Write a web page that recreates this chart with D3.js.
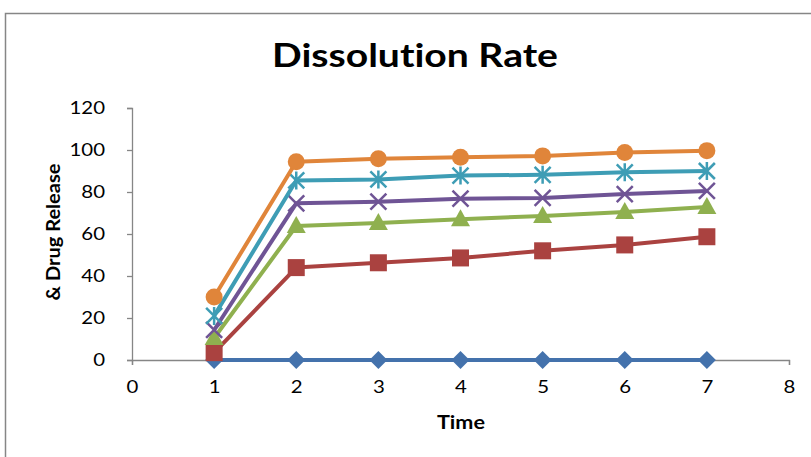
<!DOCTYPE html>
<html><head><meta charset="utf-8">
<script src="https://cdn.jsdelivr.net/npm/d3@7"></script>
<style>body{margin:0;background:#fff;}svg{display:block;font-family:Lato,"Open Sans",sans-serif;font-variant-ligatures:none;}</style>
</head><body>
<svg id="c" width="811" height="457"></svg>
<script>
const times = [1, 2, 3, 4, 5, 6, 7];
const xTicks = [0, 1, 2, 3, 4, 5, 6, 7, 8];
const yTicks = [0, 20, 40, 60, 80, 100, 120];
const seriesBlue   = [0, 0, 0, 0, 0, 0, 0];
const seriesRed    = [3.5, 44, 46.3, 48.6, 52, 54.8, 58.7];
const seriesGreen  = [10.5, 63.8, 65.2, 67, 68.6, 70.5, 72.8];
const seriesPurple = [14.3, 74.6, 75.4, 76.8, 77.2, 79, 80.5];
const seriesTeal   = [21, 85.5, 86, 87.8, 88.2, 89.4, 90];
const seriesOrange = [30, 94.4, 95.8, 96.6, 97.2, 98.8, 99.7];

const series = [
  {values: seriesBlue, color: "#4472AC", marker: "diamond"},
  {values: seriesRed, color: "#AA4240", marker: "square"},
  {values: seriesGreen, color: "#8FB04F", marker: "triangle"},
  {values: seriesPurple, color: "#6F5495", marker: "x"},
  {values: seriesTeal, color: "#3E9DB5", marker: "star"},
  {values: seriesOrange, color: "#E0853A", marker: "circle"}
];

const svg = d3.select("#c");
svg.append("rect").attr("x", 5.5).attr("y", 13.5).attr("width", 900).attr("height", 600)
  .attr("fill", "#fff").attr("stroke", "#868686").attr("stroke-width", 1.5);

const x = d3.scaleLinear().domain([0, 8]).range([132, 789]);
const y = d3.scaleLinear().domain([0, 120]).range([360, 108]);

function stretch(sel, f) {
  sel.each(function() {
    const w = this.getComputedTextLength();
    d3.select(this).attr("textLength", w * f).attr("lengthAdjust", "spacingAndGlyphs");
  });
}

const ya = svg.append("g").attr("transform", "translate(132,0)")
  .call(d3.axisLeft(y).tickValues(yTicks).tickSize(5).tickPadding(22));
ya.select(".domain").attr("stroke", "#868686").attr("stroke-width", 1.3);
ya.selectAll(".tick line").attr("stroke", "#868686").attr("stroke-width", 1.3);
ya.selectAll("text").attr("font-size", 17).attr("fill", "#000").attr("font-family", "Lato, sans-serif").call(stretch, 1.2);

const xa = svg.append("g").attr("transform", "translate(0,360)")
  .call(d3.axisBottom(x).tickValues(xTicks).tickSize(5).tickPadding(16));
xa.select(".domain").attr("stroke", "#868686").attr("stroke-width", 1.3);
xa.selectAll(".tick line").attr("stroke", "#868686").attr("stroke-width", 1.3);
xa.selectAll("text").attr("font-size", 17).attr("fill", "#000").attr("font-family", "Lato, sans-serif").call(stretch, 1.2);

svg.append("text").attr("x", 415).attr("y", 67).attr("text-anchor", "middle")
  .attr("font-size", 33).attr("font-weight", "bold")
  .attr("textLength", 286).attr("lengthAdjust", "spacingAndGlyphs").text("Dissolution Rate");
svg.append("text").attr("x", 461).attr("y", 429).attr("text-anchor", "middle")
  .attr("font-size", 18.5).attr("font-weight", "bold")
  .attr("textLength", 48).attr("lengthAdjust", "spacingAndGlyphs").text("Time");
svg.append("text").attr("transform", "translate(60,232) rotate(-90)").attr("text-anchor", "middle")
  .attr("font-size", 18).attr("font-weight", "bold")
  .attr("textLength", 137).attr("lengthAdjust", "spacingAndGlyphs").text("& Drug Release");

const line = d3.line().x((d, i) => x(times[i])).y(d => y(d));

function drawMarker(g, type, cx, cy, color) {
  if (type === "diamond") {
    g.append("path").attr("d", `M${cx},${cy-9}L${cx+9},${cy}L${cx},${cy+9}L${cx-9},${cy}Z`).attr("fill", color);
  } else if (type === "square") {
    g.append("rect").attr("x", cx-8.5).attr("y", cy-8.5).attr("width", 17).attr("height", 17).attr("fill", color);
  } else if (type === "triangle") {
    g.append("path").attr("d", `M${cx},${cy-10}L${cx+9.5},${cy+7}L${cx-9.5},${cy+7}Z`).attr("fill", color);
  } else if (type === "circle") {
    g.append("circle").attr("cx", cx).attr("cy", cy).attr("r", 8.5).attr("fill", color);
  } else if (type === "x") {
    g.append("path").attr("d", `M${cx-8},${cy-8}L${cx+8},${cy+8}M${cx-8},${cy+8}L${cx+8},${cy-8}`)
      .attr("stroke", color).attr("stroke-width", 2.5);
  } else if (type === "star") {
    g.append("path").attr("d", `M${cx-8},${cy-8}L${cx+8},${cy+8}M${cx-8},${cy+8}L${cx+8},${cy-8}M${cx},${cy-9}L${cx},${cy+9}`)
      .attr("stroke", color).attr("stroke-width", 2.5);
  }
}

series.forEach(s => {
  const g = svg.append("g");
  g.append("path").datum(s.values).attr("d", line).attr("fill", "none")
    .attr("stroke", s.color).attr("stroke-width", 4).attr("stroke-linejoin", "round");
  s.values.forEach((v, i) => drawMarker(g, s.marker, x(times[i]), y(v), s.color));
});
</script>
</body></html>
